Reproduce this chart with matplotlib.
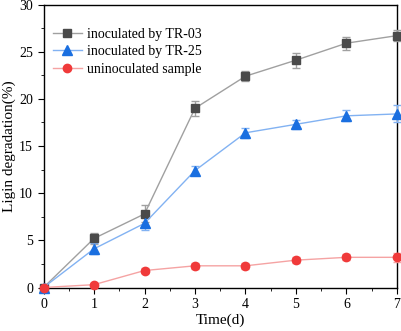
import matplotlib
matplotlib.use("Agg")
import matplotlib.pyplot as plt
from matplotlib.ticker import MultipleLocator
from matplotlib.lines import Line2D

plt.rcParams['font.family'] = ['Liberation Serif', 'DejaVu Serif']

days = [0, 1, 2, 3, 4, 5, 6, 7]
tr03 = [0, 5.2, 7.8, 19.0, 22.4, 24.1, 25.9, 26.7]
tr03_err = [0, 0.6, 0.9, 0.8, 0.5, 0.8, 0.7, 0.6]
tr25 = [0, 4.1, 6.8, 12.4, 16.4, 17.3, 18.2, 18.4]
tr25_err = [0, 0.6, 0.7, 0.5, 0.5, 0.5, 0.6, 0.9]
unin = [0, 0.3, 1.8, 2.3, 2.3, 2.9, 3.2, 3.2]
unin_err = [0, 0.2, 0.3, 0.3, 0.3, 0.3, 0.3, 0.5]

fig = plt.figure(figsize=(4.01, 3.31), dpi=100)
ax = fig.add_axes([0.1085, 0.1314, 0.8815, 0.855])

series = [
    (tr03, tr03_err, 'inoculated by TR-03', 's', '#4a4a4a', '#a0a0a0', 5.5),
    (tr25, tr25_err, 'inoculated by TR-25', '^', '#1a6fe0', '#82b2f2', 6.5),
    (unin, unin_err, 'uninoculated sample', 'o', '#f03a3a', '#f5a3a3', 6),
]
handles = []
for y, e, lab, m, mc, lc, ms in series:
    ax.errorbar(days, y, yerr=e, color=lc, lw=1, marker=m, ms=ms,
                mfc=mc, mec=mc, ecolor=lc, elinewidth=1, capsize=3, capthick=1,
                clip_on=False, zorder=3)
    handles.append(Line2D([], [], color=lc, lw=1, marker=m, ms=ms, mfc=mc, mec=mc, label=lab))

ax.set_xlim(0, 7)
ax.set_ylim(0, 30)
ax.xaxis.set_major_locator(MultipleLocator(1))
ax.xaxis.set_minor_locator(MultipleLocator(0.5))
ax.yaxis.set_major_locator(MultipleLocator(5))
ax.yaxis.set_minor_locator(MultipleLocator(2.5))
ax.tick_params(direction='out', which='both', labelsize=10, colors='black')
ax.tick_params(which='major', length=4)
ax.tick_params(which='minor', length=2.5)
for s in ax.spines.values():
    s.set_linewidth(1)
ax.set_xlabel('Time(d)', fontsize=11, labelpad=2)
ax.set_ylabel('Ligin degradation(%)', fontsize=11, labelpad=2)
ax.legend(handles=handles, loc='upper left', frameon=False, fontsize=10,
          bbox_to_anchor=(0.01, 0.936), borderaxespad=0,
          handlelength=2.1, handletextpad=0.36, labelspacing=0.3)

fig.savefig('out.png', dpi=100)
